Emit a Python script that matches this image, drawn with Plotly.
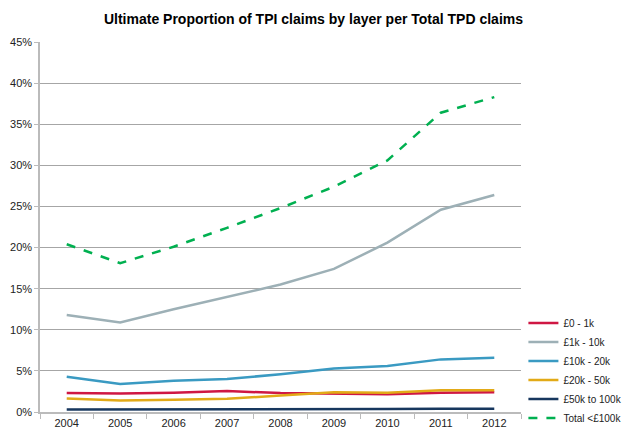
import plotly.graph_objects as go

years = ["2004", "2005", "2006", "2007", "2008", "2009", "2010", "2011", "2012"]
band_0_1k = [2.3, 2.25, 2.35, 2.55, 2.3, 2.2, 2.15, 2.35, 2.4]
band_1k_10k = [11.8, 10.9, 12.5, 14.0, 15.5, 17.4, 20.6, 24.6, 26.4]
band_10k_20k = [4.3, 3.4, 3.8, 4.0, 4.6, 5.3, 5.6, 6.4, 6.6]
band_20k_50k = [1.65, 1.4, 1.5, 1.6, 2.0, 2.4, 2.35, 2.65, 2.65]
band_50k_100k = [0.3, 0.3, 0.3, 0.3, 0.35, 0.35, 0.35, 0.4, 0.4]
total_100k = [20.4, 18.1, 20.1, 22.4, 24.8, 27.4, 30.6, 36.4, 38.3]

series = [
    ("£0 - 1k", band_0_1k, "#CF1743", "solid"),
    ("£1k - 10k", band_1k_10k, "#9DB0B6", "solid"),
    ("£10k - 20k", band_10k_20k, "#3A9AC2", "solid"),
    ("£20k - 50k", band_20k_50k, "#E2AA17", "solid"),
    ("£50k to 100k", band_50k_100k, "#17375E", "solid"),
    ("Total <£100k", total_100k, "#00B050", "dash"),
]

fig = go.Figure()
for name, vals, color, dash in series:
    fig.add_trace(go.Scatter(
        x=years, y=[v / 100 for v in vals], name=name, mode="lines",
        line=dict(color=color, width=2.5, dash=dash),
    ))

fig.update_layout(
    width=627, height=431,
    margin=dict(l=40, r=106, t=42, b=19, autoexpand=False),
    paper_bgcolor="white", plot_bgcolor="white",
    font=dict(family="Liberation Sans", size=11, color="#222"),
    title=dict(text="<b>Ultimate Proportion of TPI claims by layer per Total TPD claims</b>",
               x=0.5, xanchor="center", y=0.955, yanchor="middle",
               font=dict(family="Liberation Sans", size=14, color="#000")),
    showlegend=True,
    legend=dict(x=1.005, xanchor="left", y=0.28, yanchor="top",
                font=dict(family="Liberation Sans", size=10, color="#222"), tracegroupgap=0,
                itemwidth=30, bgcolor="rgba(0,0,0,0)"),
    xaxis=dict(
        type="category", range=[-0.5, 8.5], showgrid=False, showline=True,
        linecolor="#BBBBBB", linewidth=1.5,
        ticks="outside", ticklen=5, tickcolor="#BBBBBB", tickson="boundaries",
        tickfont=dict(size=11, color="#222"),
    ),
    yaxis=dict(
        range=[0, 0.45], dtick=0.05, tickformat=".0%", showgrid=True,
        gridcolor="#A6A6A6", gridwidth=1, showline=True, linecolor="#BBBBBB", linewidth=1.5,
        ticks="outside", ticklen=4, tickcolor="#BBBBBB", zeroline=False,
        tickfont=dict(size=11, color="#222"),
    ),
)

fig.write_html("out.html", config={"displayModeBar": False},
               post_script="document.body.style.margin='0';document.body.style.overflow='hidden';")
